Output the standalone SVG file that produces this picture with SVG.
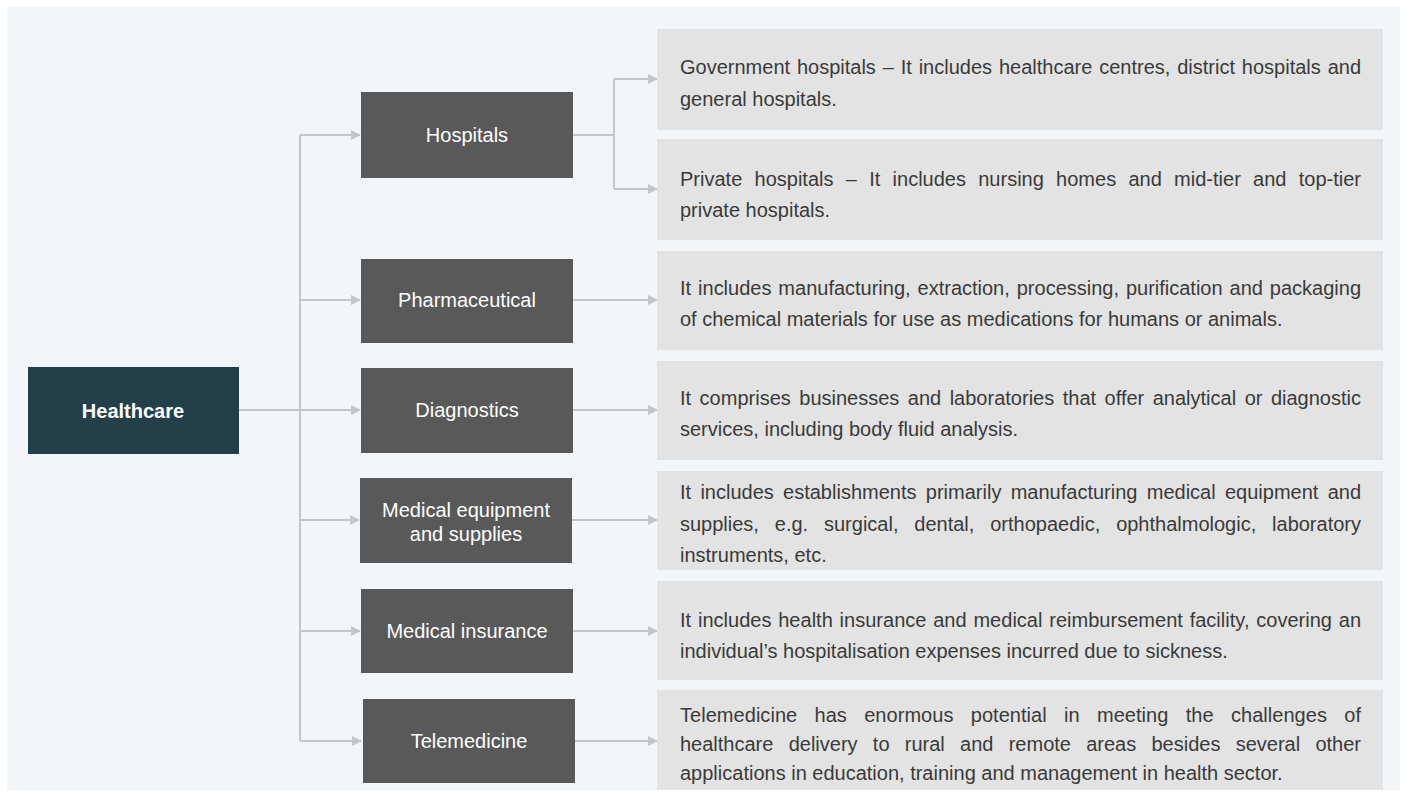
<svg xmlns="http://www.w3.org/2000/svg" width="1407" height="796" viewBox="0 0 1407 796">
<style>
.cat{fill:#595959}
.desc{fill:#e3e3e3}
.lbl{font-family:"Liberation Sans",Arial,sans-serif;font-size:20px;fill:#ffffff;text-anchor:middle}
.txt{font-family:"Liberation Sans",Arial,sans-serif;font-size:20px;fill:#3a3a3a}
.ln{stroke:#c3c6c8;stroke-width:2;fill:none}
</style>
<defs>
<marker id="ah" markerWidth="10" markerHeight="10" refX="9" refY="5" orient="auto" markerUnits="userSpaceOnUse">
<path d="M0,0 L10,5 L0,10 Z" fill="#c3c6c8"/>
</marker>
</defs>
<rect width="1407" height="796" fill="#ffffff"/>
<rect x="7" y="7" width="1393" height="783" fill="#f3f6f8"/>

<g id="connectors">
<path class="ln" d="M239,410 H300"/>
<path class="ln" d="M300,135 V741"/>
<path class="ln" d="M300,135 H360" marker-end="url(#ah)"/>
<path class="ln" d="M300,300 H360" marker-end="url(#ah)"/>
<path class="ln" d="M300,410 H360" marker-end="url(#ah)"/>
<path class="ln" d="M300,520 H359" marker-end="url(#ah)"/>
<path class="ln" d="M300,631 H360" marker-end="url(#ah)"/>
<path class="ln" d="M300,741 H361" marker-end="url(#ah)"/>
<path class="ln" d="M573,135 H614 V79"/>
<path class="ln" d="M614,135 V189"/>
<path class="ln" d="M614,79 H657" marker-end="url(#ah)"/>
<path class="ln" d="M614,189 H657" marker-end="url(#ah)"/>
<path class="ln" d="M573,300 H657" marker-end="url(#ah)"/>
<path class="ln" d="M573,410 H657" marker-end="url(#ah)"/>
<path class="ln" d="M572,520 H657" marker-end="url(#ah)"/>
<path class="ln" d="M573,631 H657" marker-end="url(#ah)"/>
<path class="ln" d="M575,741 H657" marker-end="url(#ah)"/>
</g>

<g id="healthcare">
<rect x="28" y="367" width="211" height="87" fill="#223f4a"/>
<text x="133" y="418" class="lbl" font-size="21" font-weight="bold">Healthcare</text>
</g>

<g id="hospitals">
<rect class="cat" x="361" y="92" width="212" height="86"/>
<text x="467" y="142" class="lbl">Hospitals</text>
</g>
<g id="pharmaceutical">
<rect class="cat" x="361" y="259" width="212" height="84"/>
<text x="467" y="307" class="lbl">Pharmaceutical</text>
</g>
<g id="diagnostics">
<rect class="cat" x="361" y="368" width="212" height="85"/>
<text x="467" y="417" class="lbl">Diagnostics</text>
</g>
<g id="medical-equipment">
<rect class="cat" x="360" y="478" width="212" height="85"/>
<text x="466" y="517" class="lbl">Medical equipment</text>
<text x="466" y="541" class="lbl">and supplies</text>
</g>
<g id="medical-insurance">
<rect class="cat" x="361" y="589" width="212" height="84"/>
<text x="467" y="638" class="lbl">Medical insurance</text>
</g>
<g id="telemedicine">
<rect class="cat" x="363" y="699" width="212" height="84"/>
<text x="469" y="748" class="lbl">Telemedicine</text>
</g>

<g id="desc-government">
<rect class="desc" x="657" y="29" width="726" height="101"/>
<text class="txt" x="680" y="74" word-spacing="1.3" textLength="681" lengthAdjust="spacing">Government hospitals – It includes healthcare centres, district hospitals and</text>
<text class="txt" x="680" y="106">general hospitals.</text>
</g>
<g id="desc-private">
<rect class="desc" x="657" y="139" width="726" height="101"/>
<text class="txt" x="680" y="186" word-spacing="6.7" textLength="681" lengthAdjust="spacing">Private hospitals – It includes nursing homes and mid-tier and top-tier</text>
<text class="txt" x="680" y="217">private hospitals.</text>
</g>
<g id="desc-pharmaceutical">
<rect class="desc" x="657" y="251" width="726" height="99"/>
<text class="txt" x="680" y="295" word-spacing="1.4" textLength="681" lengthAdjust="spacing">It includes manufacturing, extraction, processing, purification and packaging</text>
<text class="txt" x="680" y="326">of chemical materials for use as medications for humans or animals.</text>
</g>
<g id="desc-diagnostics">
<rect class="desc" x="657" y="361" width="726" height="99"/>
<text class="txt" x="680" y="405" word-spacing="2.9" textLength="681" lengthAdjust="spacing">It comprises businesses and laboratories that offer analytical or diagnostic</text>
<text class="txt" x="680" y="436">services, including body fluid analysis.</text>
</g>
<g id="desc-equipment">
<rect class="desc" x="657" y="471" width="726" height="99"/>
<text class="txt" x="680" y="499" word-spacing="3.7" textLength="681" lengthAdjust="spacing">It includes establishments primarily manufacturing medical equipment and</text>
<text class="txt" x="680" y="531" word-spacing="10.3" textLength="681" lengthAdjust="spacing">supplies, e.g. surgical, dental, orthopaedic, ophthalmologic, laboratory</text>
<text class="txt" x="680" y="562">instruments, etc.</text>
</g>
<g id="desc-insurance">
<rect class="desc" x="657" y="581" width="726" height="99"/>
<text class="txt" x="680" y="627" word-spacing="1.2" textLength="681" lengthAdjust="spacing">It includes health insurance and medical reimbursement facility, covering an</text>
<text class="txt" x="680" y="658">individual’s hospitalisation expenses incurred due to sickness.</text>
</g>
<g id="desc-telemedicine">
<rect class="desc" x="657" y="690" width="726" height="100"/>
<text class="txt" x="680" y="722" word-spacing="11.7" textLength="681" lengthAdjust="spacing">Telemedicine has enormous potential in meeting the challenges of</text>
<text class="txt" x="680" y="751" word-spacing="9.7" textLength="681" lengthAdjust="spacing">healthcare delivery to rural and remote areas besides several other</text>
<text class="txt" x="680" y="780">applications in education, training and management in health sector.</text>
</g>
</svg>
